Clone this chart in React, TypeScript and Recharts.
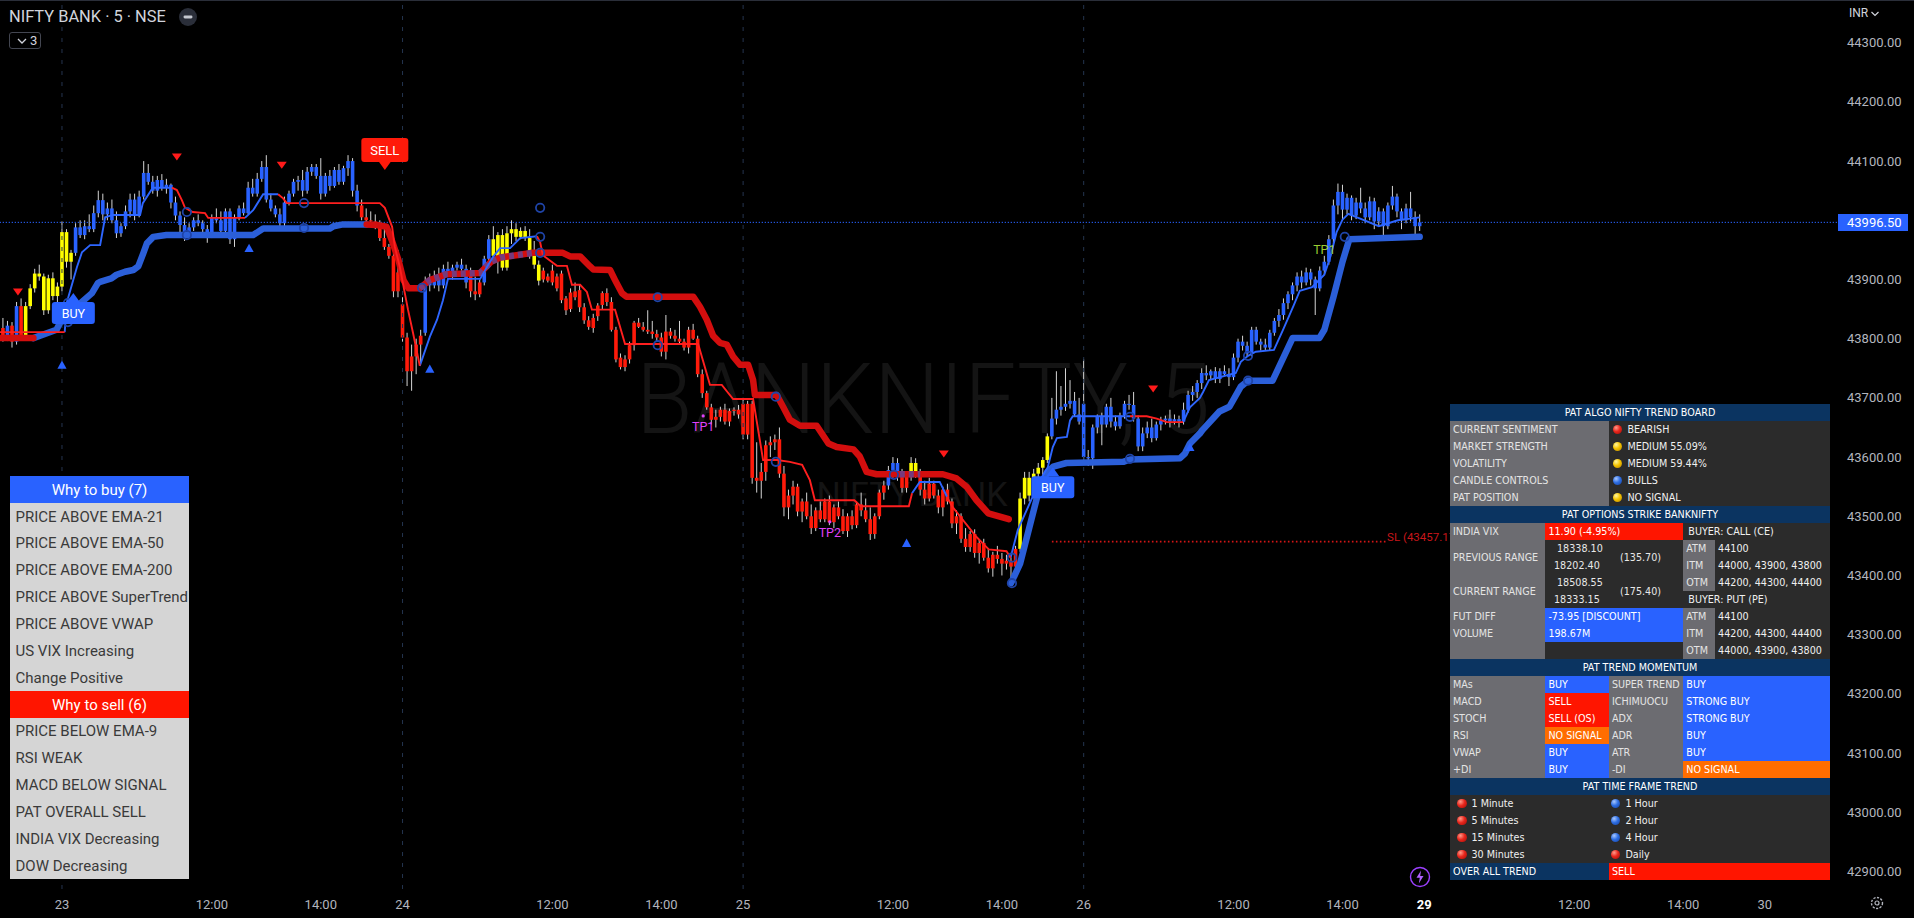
import React from 'react';
import { ComposedChart, XAxis, YAxis, Bar, Line, Scatter, ReferenceLine } from 'recharts';

// ---------------- scales / ticks ----------------
const X_DOMAIN: [number, number] = [-13.65, 390.9];
const Y_DOMAIN: [number, number] = [42870.4, 44372.1];
const sessionBreaks = [0, 75, 150, 225];
const xTicks = [0, 33, 57, 75, 108, 132, 150, 183, 207, 225, 258, 282, 300, 333, 357, 375];
const xTickLabels = ['23', '12:00', '14:00', '24', '12:00', '14:00', '25', '12:00', '14:00', '26', '12:00', '14:00', '29', '12:00', '14:00', '30'];
const yTicks = [42900, 43000, 43100, 43200, 43300, 43400, 43500, 43600, 43700, 43800, 43900, 44100, 44200, 44300];
const lastPrice = 43996.5;
const slPrice = 43457.17;
const slSpan = [218, 291.6];

// ---------------- candles [open, high, low, close] ----------------
const day22Start = -13;
const day22 = [
  [43818, 43835, 43795, 43800], [43800, 43830, 43796, 43822], [43822, 43828, 43785, 43795], [43795, 43862, 43790, 43855], [43855, 43868, 43798, 43805],
  [43805, 43862, 43800, 43855], [43855, 43892, 43850, 43885], [43885, 43918, 43878, 43910], [43910, 43925, 43898, 43905], [43905, 43910, 43840, 43848],
  [43848, 43908, 43842, 43902], [43902, 43912, 43865, 43872], [43872, 43895, 43835, 43888],
];
const day22States: [string, number][] = [['R', 1], ['B', 1], ['R', 1], ['B', 1], ['R', 1], ['Y', 8]];

const day23Start = 0;
const day23 = [
  [43888, 43998, 43880, 43980], [43980, 43985, 43920, 43930], [43930, 43950, 43900, 43945], [43945, 43995, 43940, 43988], [43988, 44000, 43970, 43975],
  [43975, 44000, 43968, 43990], [43990, 44010, 43980, 43985], [43985, 44025, 43980, 44012], [44012, 44050, 44005, 44034], [44034, 44045, 44000, 44010],
  [44010, 44030, 44000, 44020], [44020, 44035, 43995, 44000], [44000, 44015, 43970, 43978], [43978, 43995, 43972, 43990], [43990, 44025, 43985, 44015],
  [44015, 44045, 44005, 44035], [44035, 44045, 44000, 44010], [44010, 44050, 44005, 44040], [44040, 44100, 44035, 44080], [44080, 44095, 44060, 44065],
  [44065, 44075, 44045, 44050], [44050, 44075, 44040, 44068], [44068, 44078, 44050, 44055], [44055, 44070, 44045, 44060], [44060, 44062, 44020, 44030],
  [44030, 44040, 44000, 44008], [44008, 44015, 43980, 43992], [43992, 44005, 43965, 43978], [43978, 43995, 43970, 43988], [43988, 44005, 43982, 44000],
  [44000, 44010, 43990, 43995], [43995, 44000, 43975, 43985], [43985, 43992, 43962, 43975], [43975, 44010, 43970, 44005], [44005, 44020, 43995, 44000],
  [44000, 44015, 43975, 43982], [43982, 44020, 43978, 44015], [44015, 44020, 43960, 43968], [43968, 44010, 43955, 44005], [44005, 44025, 44000, 44020],
  [44020, 44030, 44008, 44012], [44012, 44065, 44010, 44055], [44055, 44070, 44040, 44045], [44045, 44080, 44040, 44070], [44070, 44100, 44065, 44090],
  [44090, 44110, 44030, 44035], [44035, 44045, 44015, 44020], [44020, 44025, 44005, 44010], [44010, 44020, 43985, 43995], [43995, 44040, 43990, 44030],
  [44030, 44050, 44025, 44045], [44045, 44070, 44040, 44065], [44065, 44075, 44050, 44068], [44068, 44085, 44040, 44050], [44050, 44090, 44045, 44082],
  [44082, 44095, 44075, 44090], [44090, 44095, 44070, 44075], [44075, 44105, 44035, 44045], [44045, 44080, 44040, 44075], [44075, 44085, 44050, 44058],
  [44058, 44090, 44055, 44085], [44085, 44095, 44060, 44065], [44065, 44092, 44060, 44088], [44088, 44110, 44075, 44100], [44100, 44105, 44040, 44050],
  [44050, 44060, 44015, 44025], [44025, 44035, 44000, 44005], [44005, 44020, 43995, 44000], [44000, 44015, 43990, 43998], [43998, 44010, 43985, 43995],
  [43995, 44000, 43965, 43970], [43970, 43985, 43950, 43955], [43955, 43960, 43935, 43940], [43940, 43945, 43870, 43880], [43880, 43950, 43870, 43912],
];
const day23States: [string, number][] = [['Y', 3], ['B', 63], ['R', 9]];

const day24Start = 75;
const day24 = [
  [43858, 43870, 43795, 43802], [43802, 43810, 43720, 43745], [43745, 43790, 43712, 43770], [43770, 43800, 43740, 43790], [43790, 43815, 43760, 43805],
  [43810, 43905, 43805, 43895], [43895, 43910, 43880, 43890], [43890, 43915, 43885, 43905], [43905, 43920, 43880, 43890], [43890, 43925, 43885, 43918],
  [43918, 43930, 43905, 43912], [43912, 43925, 43900, 43920], [43920, 43930, 43915, 43925], [43925, 43935, 43915, 43918], [43918, 43925, 43885, 43895],
  [43915, 43920, 43870, 43880], [43880, 43905, 43865, 43875], [43875, 43900, 43870, 43895], [43895, 43940, 43890, 43935], [43935, 43975, 43925, 43968],
  [43968, 43990, 43930, 43940], [43940, 43980, 43910, 43975], [43975, 43985, 43915, 43920], [43920, 43990, 43915, 43978], [43978, 44000, 43960, 43985],
  [43985, 43995, 43965, 43972], [43972, 43988, 43968, 43982], [43982, 43990, 43965, 43970], [43970, 43985, 43935, 43942], [43942, 43965, 43918, 43925],
  [43925, 43932, 43890, 43898], [43915, 43920, 43895, 43900], [43905, 43910, 43895, 43898], [43915, 43925, 43890, 43895], [43905, 43910, 43880, 43885],
  [43910, 43915, 43860, 43865], [43868, 43872, 43840, 43848], [43878, 43885, 43845, 43850], [43880, 43895, 43865, 43870], [43882, 43892, 43845, 43853],
  [43853, 43860, 43825, 43831], [43831, 43838, 43815, 43820], [43835, 43842, 43810, 43818], [43838, 43860, 43830, 43856], [43857, 43880, 43850, 43877],
  [43877, 43885, 43855, 43862], [43862, 43870, 43812, 43815], [43815, 43820, 43760, 43765], [43768, 43775, 43748, 43752], [43765, 43772, 43745, 43752],
  [43765, 43795, 43758, 43789], [43789, 43830, 43780, 43827], [43827, 43835, 43818, 43820], [43820, 43828, 43812, 43815], [43815, 43848, 43808, 43812],
  [43812, 43830, 43800, 43808], [43808, 43815, 43795, 43802], [43802, 43810, 43770, 43778], [43778, 43840, 43765, 43812], [43812, 43818, 43800, 43805],
  [43805, 43815, 43795, 43800], [43800, 43830, 43790, 43795], [43795, 43800, 43780, 43785], [43785, 43820, 43775, 43815], [43815, 43825, 43798, 43800],
  [43800, 43805, 43735, 43740], [43740, 43748, 43700, 43708], [43708, 43712, 43680, 43684], [43684, 43690, 43655, 43663], [43663, 43680, 43650, 43668],
  [43668, 43685, 43660, 43680], [43680, 43690, 43655, 43660], [43660, 43682, 43652, 43678], [43678, 43684, 43670, 43680], [43680, 43688, 43665, 43672],
];
const day24States: [string, number][] = [['R', 5], ['B', 10], ['R', 3], ['B', 2], ['Y', 11], ['R', 44]];

const day25Start = 150;
const day25 = [
  [43690, 43700, 43630, 43638], [43638, 43695, 43630, 43690], [43690, 43695, 43555, 43565], [43565, 43625, 43540, 43560], [43560, 43590, 43530, 43575],
  [43575, 43628, 43560, 43620], [43620, 43635, 43600, 43625], [43625, 43638, 43612, 43630], [43630, 43650, 43565, 43572], [43572, 43585, 43500, 43515],
  [43515, 43545, 43495, 43535], [43535, 43560, 43520, 43550], [43550, 43555, 43500, 43508], [43508, 43530, 43490, 43525], [43525, 43540, 43495, 43500],
  [43500, 43520, 43470, 43480], [43480, 43515, 43475, 43510], [43510, 43525, 43490, 43495], [43495, 43530, 43490, 43525], [43525, 43535, 43485, 43490],
  [43490, 43520, 43480, 43515], [43515, 43525, 43495, 43500], [43500, 43512, 43470, 43475], [43475, 43505, 43465, 43500], [43500, 43510, 43478, 43485],
  [43485, 43525, 43480, 43520], [43520, 43540, 43500, 43510], [43510, 43530, 43490, 43495], [43495, 43515, 43460, 43470], [43470, 43505, 43462, 43500],
  [43500, 43545, 43495, 43540], [43540, 43560, 43528, 43552], [43552, 43585, 43545, 43578], [43578, 43600, 43565, 43590], [43590, 43598, 43560, 43570],
  [43570, 43580, 43540, 43548], [43548, 43575, 43540, 43570], [43570, 43600, 43560, 43590], [43590, 43598, 43565, 43573], [43573, 43580, 43535, 43545],
  [43545, 43560, 43520, 43530], [43530, 43565, 43525, 43555], [43555, 43560, 43530, 43535], [43535, 43545, 43505, 43515], [43515, 43550, 43500, 43545],
  [43545, 43555, 43520, 43525], [43525, 43530, 43480, 43488], [43488, 43510, 43470, 43500], [43500, 43505, 43455, 43462], [43462, 43480, 43440, 43448],
  [43448, 43475, 43440, 43470], [43470, 43478, 43430, 43438], [43438, 43460, 43420, 43455], [43455, 43462, 43425, 43430], [43430, 43445, 43405, 43412],
  [43412, 43440, 43398, 43435], [43435, 43450, 43420, 43428], [43428, 43438, 43400, 43420], [43420, 43435, 43410, 43425], [43425, 43430, 43395, 43415],
  [43415, 43450, 43405, 43445], [43445, 43540, 43440, 43530], [43530, 43575, 43520, 43565], [43565, 43575, 43525, 43535], [43535, 43580, 43530, 43572],
  [43572, 43590, 43565, 43582], [43582, 43600, 43570, 43595], [43595, 43640, 43590, 43635], [43635, 43700, 43630, 43665], [43665, 43745, 43655, 43680],
  [43680, 43720, 43670, 43685], [43685, 43750, 43678, 43690], [43690, 43730, 43682, 43695], [43695, 43710, 43668, 43672], [43672, 43700, 43655, 43660],
];
const day25States: [string, number][] = [['R', 32], ['B', 3], ['R', 2], ['Y', 2], ['R', 22], ['Y', 7], ['B', 7]];

const day26Start = 225;
const day26 = [
  [43690, 43765, 43590, 43600], [43600, 43612, 43585, 43598], [43598, 43655, 43580, 43650], [43650, 43672, 43640, 43668], [43668, 43675, 43620, 43655],
  [43655, 43690, 43650, 43685], [43685, 43700, 43650, 43660], [43660, 43670, 43645, 43652], [43652, 43675, 43648, 43670], [43670, 43695, 43665, 43690],
  [43690, 43705, 43680, 43688], [43688, 43710, 43660, 43665], [43665, 43670, 43610, 43618], [43618, 43650, 43610, 43640], [43640, 43660, 43632, 43650],
  [43650, 43665, 43625, 43632], [43632, 43660, 43628, 43655], [43655, 43668, 43645, 43662], [43662, 43670, 43655, 43665], [43665, 43680, 43650, 43660],
  [43660, 43672, 43655, 43664], [43664, 43670, 43650, 43660], [43660, 43692, 43655, 43680], [43680, 43712, 43675, 43705], [43705, 43720, 43695, 43710],
  [43710, 43730, 43700, 43725], [43725, 43750, 43715, 43742], [43742, 43755, 43730, 43738], [43738, 43748, 43730, 43745], [43745, 43752, 43725, 43732],
  [43732, 43750, 43725, 43745], [43745, 43755, 43738, 43740], [43740, 43750, 43720, 43735], [43735, 43775, 43730, 43768], [43768, 43800, 43760, 43795],
  [43795, 43805, 43780, 43788], [43788, 43795, 43770, 43775], [43775, 43820, 43770, 43815], [43815, 43820, 43790, 43795], [43795, 43800, 43780, 43790],
  [43790, 43800, 43780, 43785], [43785, 43815, 43780, 43810], [43810, 43835, 43805, 43830], [43830, 43850, 43820, 43840], [43840, 43868, 43832, 43860],
  [43860, 43880, 43850, 43875], [43875, 43895, 43865, 43890], [43890, 43912, 43880, 43905], [43905, 43915, 43885, 43895], [43895, 43920, 43890, 43912],
  [43912, 43918, 43890, 43900], [43900, 43905, 43840, 43885], [43885, 43922, 43880, 43915], [43915, 43940, 43908, 43930], [43930, 43975, 43925, 43968],
  [43968, 44035, 43960, 44025], [44025, 44062, 44010, 44048], [44048, 44060, 44000, 44018], [44018, 44045, 44010, 44038], [44038, 44042, 44000, 44008],
  [44008, 44038, 44002, 44030], [44030, 44055, 44012, 44020], [44020, 44030, 43995, 44005], [44005, 44040, 44000, 44032], [44032, 44038, 43985, 43998],
  [43998, 44022, 43990, 44015], [44015, 44020, 43975, 43990], [43990, 44030, 43985, 44025], [44025, 44058, 44018, 44040], [44040, 44045, 44005, 44015],
  [44015, 44020, 43985, 44000], [44000, 44028, 43995, 44020], [44020, 44048, 43998, 44005], [44005, 44015, 43975, 43990], [43990, 44010, 43982, 43996.5],
];
const day26States: [string, number][] = [['B', 75]];

// ---------------- trailing lines (bar index, price) ----------------
const fastTrailBear = [
  [[-13.65, 43811], [0.6, 43811]],
  [[24.2, 44055], [25.3, 44051], [26.4, 44034], [27.1, 44021], [28.8, 44014], [31.5, 44012], [32.2, 44004], [40.3, 44004]],
  [[47.6, 44044], [48.7, 44037], [49.5, 44029], [70.0, 44029], [71.1, 44021], [72.7, 43989], [73.3, 43955], [74.4, 43921], [75.5, 43877], [76.2, 43849], [77.3, 43810], [78.8, 43754]],
  [[104.6, 43973], [105.3, 43963], [105.9, 43941], [109.0, 43923], [111.2, 43923], [112.3, 43891], [114.1, 43891], [115.6, 43879], [116.7, 43849], [121.8, 43849], [124.0, 43791], [140.1, 43791], [142.7, 43722], [145.3, 43722], [147.8, 43698], [152.2, 43698], [154.4, 43595], [157.5, 43595], [160.3, 43592], [163.0, 43587], [164.7, 43561], [165.8, 43527], [174.5, 43527], [175.9, 43517], [186.5, 43517], [187.2, 43539]],
  [[194.9, 43533], [196.0, 43517], [201.4, 43465], [204.1, 43444], [208.0, 43441], [208.9, 43430]],
  [[235.2, 43669], [238.9, 43669], [241.1, 43665], [243.3, 43659], [246.9, 43659]],
];
const fastTrailBull = [
  [[0.6, 43811], [1.1, 43862], [3.3, 43921], [4.4, 43946], [6.2, 43958], [8.4, 43958], [9.5, 44005], [11.2, 44009], [17.2, 44009], [17.8, 44029], [20.0, 44055], [24.2, 44055]],
  [[40.3, 44004], [42.1, 44017], [44.3, 44044], [47.6, 44044]],
  [[78.8, 43754], [81.0, 43803], [82.6, 43832], [83.9, 43865], [85.0, 43901], [92.1, 43901], [93.6, 43921], [94.9, 43938], [96.5, 43953], [98.7, 43953], [100.9, 43970], [104.6, 43973]],
  [[187.2, 43539], [188.9, 43558], [193.3, 43558], [194.9, 43533]],
  [[208.9, 43430], [210.5, 43477], [215.4, 43561], [217.1, 43583], [218.2, 43617], [219.1, 43632], [221.3, 43634], [222.0, 43662], [222.6, 43669], [235.2, 43669]],
  [[246.9, 43659], [248.4, 43684], [250.6, 43700], [251.3, 43710], [252.6, 43730], [258.5, 43742], [259.6, 43761], [261.2, 43771], [262.9, 43778], [266.9, 43781], [268.9, 43815], [271.3, 43857], [272.6, 43881], [275.3, 43887], [278.0, 43908], [279.4, 43940], [280.7, 43980], [282.0, 44001], [283.3, 44011], [290.0, 43990], [294.2, 44000], [299.0, 44005]],
];
const slowTrailBear = [
  [[-13.65, 43801], [-6.3, 43801]],
  [[67.1, 43993], [69.3, 43992], [71.5, 43989], [72.6, 43967], [74.1, 43933], [75.2, 43899], [76.3, 43885], [78.8, 43885], [81, 43899], [84.7, 43909], [92.1, 43911], [94.5, 43930], [96.5, 43937], [103.7, 43945], [110.3, 43945], [111.9, 43939], [114.1, 43939], [116.3, 43922], [117, 43917], [120.7, 43916], [121.8, 43899], [123.3, 43877], [124.3, 43871], [139, 43871], [140.5, 43854], [142, 43832], [143.4, 43805], [144.9, 43793], [146.4, 43790], [147.8, 43770], [149.3, 43756], [151.1, 43756], [152.2, 43730], [152.6, 43705], [157.4, 43705], [158.8, 43685], [160.3, 43663], [162.5, 43653], [166.2, 43653], [168.8, 43623], [170.6, 43617], [174.3, 43613], [175.7, 43601], [177.2, 43575], [179.4, 43571], [194, 43571], [197, 43564], [199.2, 43550], [201.4, 43527], [204, 43505], [208.5, 43495]],
];
const slowTrailBull = [
  [[-6.3, 43801], [-1.2, 43815], [-0.1, 43832], [6.6, 43877], [7.9, 43894], [8.4, 43896], [10.9, 43902], [12.0, 43908], [13.9, 43913], [15.7, 43916], [16.8, 43922], [17.9, 43944], [18.7, 43961], [20.1, 43972], [23.0, 43975], [42.1, 43975], [44.3, 43986], [59.0, 43986], [59.8, 43990], [61.9, 43993], [67.1, 43993]],
  [[209, 43387], [211, 43420], [213, 43480], [215, 43540], [217, 43575], [218.3, 43584], [221.2, 43590], [233.7, 43592], [235.2, 43596], [246.2, 43598], [247.3, 43606], [248.4, 43623], [250.6, 43640], [251.2, 43646], [254.9, 43677], [257.1, 43685], [259.6, 43719], [261.2, 43729], [266.6, 43729], [271, 43801], [276.9, 43801], [278, 43815], [280, 43870], [282, 43930], [283.5, 43968], [299, 43972]],
];
const slowTrailContested = [
  [[78.8, 43885], [81, 43899], [84.7, 43909], [92.1, 43911], [94.5, 43930], [96.5, 43937], [103.7, 43945]],
  [[184.5, 43571], [189, 43571]],
];

// ---------------- signals ----------------
const pivotMarks = [[1.3, 43860], [1.3, 43828], [27.5, 44014], [27.5, 43975], [53.3, 44029], [53.3, 43987], [79.3, 43886], [105.3, 44021], [105.3, 43972], [105.3, 43945], [131.2, 43870], [131.2, 43789], [157.2, 43702], [157.2, 43592], [183.2, 43570], [209.2, 43430], [209.2, 43387], [235.2, 43668], [235.2, 43597], [261.2, 43771], [261.2, 43729], [282.5, 43972]];
const bearArrows = [[-9.7, 43879], [25.3, 44107], [48.4, 44093], [194.2, 43605], [240.3, 43715]];
const bullArrows = [[0, 43756], [41.2, 43953], [81, 43749], [186, 43455], [248.4, 43617]];
const buySignals = [[2.5, 43877], [218.2, 43583]];
const sellSignals = [[71.1, 44085]];
const targetHits = [
  { g: 141.2, p: 43651, label: 'TP1', kind: 'short' },
  { g: 169.1, p: 43472, label: 'TP2', kind: 'short' },
  { g: 278, p: 43950, label: 'TP1', kind: 'long' },
];

// ---------------- panels ----------------
const buyReasons = ['PRICE ABOVE EMA-21', 'PRICE ABOVE EMA-50', 'PRICE ABOVE EMA-200', 'PRICE ABOVE SuperTrend', 'PRICE ABOVE VWAP', 'US VIX Increasing', 'Change Positive'];
const sellReasons = ['PRICE BELOW EMA-9', 'RSI WEAK', 'MACD BELOW SIGNAL', 'PAT OVERALL SELL', 'INDIA VIX Decreasing', 'DOW Decreasing'];
const boardRows = [
  ['CURRENT SENTIMENT', 'red', 'BEARISH'],
  ['MARKET STRENGTH', 'yellow', 'MEDIUM 55.09%'],
  ['VOLATILITY', 'yellow', 'MEDIUM 59.44%'],
  ['CANDLE CONTROLS', 'blue', 'BULLS'],
  ['PAT POSITION', 'yellow', 'NO SIGNAL'],
];
const momentumRows = [
  ['MAs', 'BUY', 'SUPER TREND', 'BUY'],
  ['MACD', 'SELL', 'ICHIMUOCU', 'STRONG BUY'],
  ['STOCH', 'SELL (OS)', 'ADX', 'STRONG BUY'],
  ['RSI', 'NO SIGNAL', 'ADR', 'BUY'],
  ['VWAP', 'BUY', 'ATR', 'BUY'],
  ['+DI', 'BUY', '-DI', 'NO SIGNAL'],
];
const timeframeRows = [
  ['red', '1 Minute', 'blue', '1 Hour'],
  ['red', '5 Minutes', 'blue', '2 Hour'],
  ['red', '15 Minutes', 'blue', '4 Hour'],
  ['red', '30 Minutes', 'red', 'Daily'],
];
const callStrikes = [['ATM', '44100'], ['ITM', '44000, 43900, 43800'], ['OTM', '44200, 44300, 44400']];
const putStrikes = [['ATM', '44100'], ['ITM', '44200, 44300, 44400'], ['OTM', '44000, 43900, 43800']];

// ---------------- build ----------------
const expandRuns = (runs: [string, number][]) => {
  const out: string[] = [];
  runs.forEach(([s, n]) => { for (let i = 0; i < n; i++) out.push(s); });
  return out;
};
const days = [
  { start: day22Start, bars: day22, runs: day22States },
  { start: day23Start, bars: day23, runs: day23States },
  { start: day24Start, bars: day24, runs: day24States },
  { start: day25Start, bars: day25, runs: day25States },
  { start: day26Start, bars: day26, runs: day26States },
];
const candles = days.flatMap((d) => {
  const st = expandRuns(d.runs);
  return d.bars.map((b, i) => ({ g: d.start + i, o: b[0], h: b[1], l: b[2], c: b[3], s: st[i] || 'B' }));
});
const toPts = (seg: number[][]) => seg.map(([g, p]) => ({ g, p }));

const CANDLE_COLORS: Record<string, string> = { B: '#2962ff', R: '#ff1a0a', Y: '#ffff00' };
const AXIS_TEXT = '#b2b5be';
const FONT = 'Roboto, "Noto Sans", sans-serif';

const CandleShape = (props: any) => {
  const { x, y, width, height, payload } = props;
  if (!payload || x == null || y == null || height == null) return null;
  const top = Math.min(y, y + height);
  const hh = Math.abs(height);
  const range = payload.h - payload.l;
  const k = range > 0 ? hh / range : 0;
  const yo = top + (payload.h - payload.o) * k;
  const yc = top + (payload.h - payload.c) * k;
  const bt = Math.min(yo, yc);
  const bh = Math.max(1.2, Math.abs(yo - yc));
  const cx = x + width / 2;
  return (
    <g>
      <line x1={cx} x2={cx} y1={top} y2={top + hh} stroke="#d4d4d4" strokeWidth={1} />
      <rect x={cx - 1.8} y={bt} width={3.6} height={bh} fill={CANDLE_COLORS[payload.s]} />
    </g>
  );
};

const XTick = (props: any) => {
  const { x, y, payload } = props;
  const i = xTicks.indexOf(payload.value);
  const label = i >= 0 ? xTickLabels[i] : '';
  const hi = label === '29';
  return (
    <text x={x} y={y + 18} textAnchor="middle" fill={hi ? '#ffffff' : AXIS_TEXT} fontSize={13} fontWeight={hi ? 700 : 400} fontFamily={FONT}>{label}</text>
  );
};
const YTick = (props: any) => {
  const { x, y, payload } = props;
  return (
    <text x={x} y={y + 4.6} textAnchor="start" fill={AXIS_TEXT} fontSize={13} fontFamily={FONT}>{Number(payload.value).toFixed(2)}</text>
  );
};

const downTri = (p: any) => <path d={`M${p.cx - 5},${p.cy - 3.5} L${p.cx + 5},${p.cy - 3.5} L${p.cx},${p.cy + 3.5} Z`} fill="#ff1a1a" />;
const upTri = (p: any) => <path d={`M${p.cx - 4.6},${p.cy + 4} L${p.cx + 4.6},${p.cy + 4} L${p.cx},${p.cy - 4.3} Z`} fill="#2962ff" />;
const ring = (p: any) => <circle cx={p.cx} cy={p.cy} r={4.2} fill="none" stroke="#1f44a8" strokeWidth={1.8} />;
const buyTag = (p: any) => (
  <g>
    <path d={`M${p.cx},${p.cy} L${p.cx + 6.5},${p.cy + 9} L${p.cx - 6.5},${p.cy + 9} Z`} fill="#2962ff" />
    <rect x={p.cx - 21.5} y={p.cy + 9} width={43} height={22} rx={3} fill="#2962ff" />
    <text x={p.cx} y={p.cy + 24.5} textAnchor="middle" fill="#ffffff" fontSize={12.5} fontFamily={FONT}>BUY</text>
  </g>
);
const sellTag = (p: any) => (
  <g>
    <path d={`M${p.cx},${p.cy} L${p.cx + 6.5},${p.cy - 9} L${p.cx - 6.5},${p.cy - 9} Z`} fill="#ff1a0a" />
    <rect x={p.cx - 23.5} y={p.cy - 32} width={47} height={24} rx={3} fill="#ff1a0a" />
    <text x={p.cx} y={p.cy - 15} textAnchor="middle" fill="#ffffff" fontSize={13} fontFamily={FONT}>SELL</text>
  </g>
);
const tpTag = (p: any) => {
  const long = p.payload.kind === 'long';
  const col = long ? '#9acd32' : '#e040fb';
  return (
    <g>
      {!long && <circle cx={p.cx} cy={p.cy - 11} r={1.6} fill={col} />}
      <text x={p.cx} y={p.cy + 4.5} textAnchor="middle" fill={col} fontSize={12.5} fontFamily={FONT}>{p.payload.label}</text>
    </g>
  );
};
const slTag = (p: any) => (
  <text x={p.cx + 1} y={p.cy - 0.5} textAnchor="start" fill="#c8161a" fontSize={11.5} fontFamily={FONT}>SL ({slPrice.toFixed(2)}</text>
);

// ---------------- tables ----------------
const NAVY = '#0b3461';
const GRAY = '#6c6c71';
const DARK = '#2b2b2b';
const RED = '#ff1500';
const BLUE = '#2962ff';
const ORANGE = '#ff6d00';
const T_TOP = 404;
const RH = 17;
const TX = [1450, 1545.4, 1608.9, 1683.3, 1715.1, 1830];

const dotBg: Record<string, string> = {
  red: 'radial-gradient(circle at 35% 30%, #ff9a8a 0%, #e8271d 45%, #9e0a05 100%)',
  yellow: 'radial-gradient(circle at 35% 30%, #fff6a0 0%, #f5c400 45%, #b07d00 100%)',
  blue: 'radial-gradient(circle at 35% 30%, #a8c8ff 0%, #2f6fe4 45%, #123f9c 100%)',
};
const Dot = ({ c }: any) => (
  <span style={{ display: 'inline-block', width: 9.5, height: 9.5, borderRadius: '50%', background: dotBg[c], marginRight: 5, flex: '0 0 auto' }} />
);
const Cell = ({ x0, x1, r0, r1, bg, children, center, color, pad }: any) => (
  <div style={{
    position: 'absolute', left: x0, top: T_TOP + r0 * RH, width: x1 - x0, height: ((r1 ?? r0) - r0 + 1) * RH,
    background: bg, color: color || '#e4e4e4', display: 'flex', alignItems: 'center',
    justifyContent: center ? 'center' : 'flex-start', paddingLeft: center ? 0 : (pad ?? 3), boxSizing: 'border-box',
    whiteSpace: 'nowrap', overflow: 'hidden',
  }}>{children}</div>
);
const sigColor = (s: string) => (s.indexOf('BUY') >= 0 ? BLUE : s.indexOf('SELL') >= 0 ? RED : ORANGE);

const RangeText = ({ r0, hi, mid, lo }: any) => (
  <>
    <div style={{ position: 'absolute', left: 1557, top: T_TOP + r0 * RH + 3, color: '#e8e8e8' }}>{hi}</div>
    <div style={{ position: 'absolute', left: 1620, top: T_TOP + r0 * RH + 11.5, color: '#e8e8e8' }}>{mid}</div>
    <div style={{ position: 'absolute', left: 1554, top: T_TOP + r0 * RH + 20, color: '#e8e8e8' }}>{lo}</div>
  </>
);

const TrendBoard = () => (
  <div style={{ position: 'absolute', left: 0, top: 0, fontFamily: '"DejaVu Sans", sans-serif', fontSize: 9.6, lineHeight: '11px' }}>
    <Cell x0={TX[0]} x1={TX[5]} r0={0} bg={NAVY} center color="#ffffff">PAT ALGO NIFTY TREND BOARD</Cell>
    {boardRows.map((r, i) => (
      <React.Fragment key={'b' + i}>
        <Cell x0={TX[0]} x1={TX[2]} r0={1 + i} bg={GRAY}>{r[0]}</Cell>
        <Cell x0={TX[2]} x1={TX[5]} r0={1 + i} bg={DARK} pad={4} color="#f0f0f0"><Dot c={r[1]} />{r[2]}</Cell>
      </React.Fragment>
    ))}
    <Cell x0={TX[0]} x1={TX[5]} r0={6} bg={NAVY} center color="#ffffff">PAT OPTIONS STRIKE BANKNIFTY</Cell>
    <Cell x0={TX[0]} x1={TX[1]} r0={7} bg={GRAY}>INDIA VIX</Cell>
    <Cell x0={TX[1]} x1={TX[3]} r0={7} bg={RED} color="#ffffff">11.90 (-4.95%)</Cell>
    <Cell x0={TX[3]} x1={TX[5]} r0={7} bg={DARK} pad={5} color="#f0f0f0">BUYER: CALL (CE)</Cell>
    <Cell x0={TX[0]} x1={TX[1]} r0={8} r1={9} bg={GRAY}>PREVIOUS RANGE</Cell>
    <Cell x0={TX[1]} x1={TX[3]} r0={8} r1={9} bg={DARK}>{''}</Cell>
    <RangeText r0={8} hi="18338.10" mid="(135.70)" lo="18202.40" />
    <Cell x0={TX[0]} x1={TX[1]} r0={10} r1={11} bg={GRAY}>CURRENT RANGE</Cell>
    <Cell x0={TX[1]} x1={TX[3]} r0={10} r1={11} bg={DARK}>{''}</Cell>
    <RangeText r0={10} hi="18508.55" mid="(175.40)" lo="18333.15" />
    {callStrikes.map((r, i) => (
      <React.Fragment key={'c' + i}>
        <Cell x0={TX[3]} x1={TX[4]} r0={8 + i} bg={GRAY}>{r[0]}</Cell>
        <Cell x0={TX[4]} x1={TX[5]} r0={8 + i} bg={DARK} color="#f0f0f0">{r[1]}</Cell>
      </React.Fragment>
    ))}
    <Cell x0={TX[3]} x1={TX[5]} r0={11} bg={DARK} pad={5} color="#f0f0f0">BUYER: PUT (PE)</Cell>
    {putStrikes.map((r, i) => (
      <React.Fragment key={'p' + i}>
        <Cell x0={TX[3]} x1={TX[4]} r0={12 + i} bg={GRAY}>{r[0]}</Cell>
        <Cell x0={TX[4]} x1={TX[5]} r0={12 + i} bg={DARK} color="#f0f0f0">{r[1]}</Cell>
      </React.Fragment>
    ))}
    <Cell x0={TX[0]} x1={TX[1]} r0={12} bg={GRAY}>FUT DIFF</Cell>
    <Cell x0={TX[1]} x1={TX[3]} r0={12} bg={BLUE} color="#ffffff">-73.95 [DISCOUNT]</Cell>
    <Cell x0={TX[0]} x1={TX[1]} r0={13} bg={GRAY}>VOLUME</Cell>
    <Cell x0={TX[1]} x1={TX[3]} r0={13} bg={BLUE} color="#ffffff">198.67M</Cell>
    <Cell x0={TX[0]} x1={TX[1]} r0={14} bg={GRAY}>{''}</Cell>
    <Cell x0={TX[1]} x1={TX[3]} r0={14} bg={DARK}>{''}</Cell>
    <Cell x0={TX[0]} x1={TX[5]} r0={15} bg={NAVY} center color="#ffffff">PAT TREND MOMENTUM</Cell>
    {momentumRows.map((r, i) => (
      <React.Fragment key={'m' + i}>
        <Cell x0={TX[0]} x1={TX[1]} r0={16 + i} bg={GRAY}>{r[0]}</Cell>
        <Cell x0={TX[1]} x1={TX[2]} r0={16 + i} bg={sigColor(r[1])} color="#ffffff">{r[1]}</Cell>
        <Cell x0={TX[2]} x1={TX[3]} r0={16 + i} bg={GRAY}>{r[2]}</Cell>
        <Cell x0={TX[3]} x1={TX[5]} r0={16 + i} bg={sigColor(r[3])} color="#ffffff">{r[3]}</Cell>
      </React.Fragment>
    ))}
    <Cell x0={TX[0]} x1={TX[5]} r0={22} bg={NAVY} center color="#ffffff">PAT TIME FRAME TREND</Cell>
    {timeframeRows.map((r, i) => (
      <React.Fragment key={'t' + i}>
        <Cell x0={TX[0]} x1={TX[2]} r0={23 + i} bg={DARK} pad={7} color="#f0f0f0"><Dot c={r[0]} />{r[1]}</Cell>
        <Cell x0={TX[2]} x1={TX[5]} r0={23 + i} bg={DARK} pad={2} color="#f0f0f0"><Dot c={r[2]} />{r[3]}</Cell>
      </React.Fragment>
    ))}
    <Cell x0={TX[0]} x1={TX[2]} r0={27} bg={NAVY} color="#ffffff">OVER ALL TREND</Cell>
    <Cell x0={TX[2]} x1={TX[5]} r0={27} bg={RED} color="#ffffff">SELL</Cell>
  </div>
);

const PR_TOP = 476;
const PR_H = 26.86;
const ReasonPanel = () => {
  const rows: any[] = [];
  rows.push({ t: 'Why to buy (' + buyReasons.length + ')', head: BLUE });
  buyReasons.forEach((t) => rows.push({ t }));
  rows.push({ t: 'Why to sell (' + sellReasons.length + ')', head: RED });
  sellReasons.forEach((t) => rows.push({ t }));
  return (
    <div style={{ position: 'absolute', left: 10, top: PR_TOP, width: 179, fontFamily: FONT, fontSize: 15 }}>
      {rows.map((r, i) => (
        <div key={i} style={{
          position: 'absolute', left: 0, top: i * PR_H, width: 179, height: PR_H + 0.5,
          background: r.head || '#d5d5d5', color: r.head ? '#ffffff' : '#3a3a3a',
          display: 'flex', alignItems: 'center', justifyContent: r.head ? 'center' : 'flex-start',
          paddingLeft: r.head ? 0 : 5.5, boxSizing: 'border-box', whiteSpace: 'nowrap', overflow: 'hidden',
        }}>{r.t}</div>
      ))}
    </div>
  );
};

export default function App() {
  return (
    <div style={{ position: 'absolute', left: 0, top: 0, width: 1914, height: 918, background: '#000000', overflow: 'hidden' }}>
      <svg width={1914} height={918} style={{ position: 'absolute', left: 0, top: 0 }}>
        <text x={923} y={433} textAnchor="middle" fontSize={98} fontFamily={FONT} fontWeight={300} fill="#141414" textLength={574} lengthAdjust="spacingAndGlyphs">BANKNIFTY, 5</text>
        <text x={912} y={506} textAnchor="middle" fontSize={34} fontFamily={FONT} fill="#141414">NIFTY BANK</text>
      </svg>
      <div style={{ position: 'absolute', left: 0, top: 0 }}>
        <ComposedChart width={1914} height={918} data={candles} margin={{ top: 0, right: 0, bottom: 0, left: 0 }}>
          <XAxis type="number" dataKey="g" domain={X_DOMAIN} ticks={xTicks} interval={0} height={29} axisLine={false} tickLine={false} tickSize={0} allowDataOverflow tick={XTick} />
          <YAxis type="number" orientation="right" domain={Y_DOMAIN} ticks={yTicks} interval={0} width={77} axisLine={false} tickLine={false} tickSize={0} tickMargin={10} allowDataOverflow tick={YTick} />
          {sessionBreaks.map((g) => (
            <ReferenceLine key={'sb' + g} x={g} stroke="#24344f" strokeDasharray="4 7" strokeWidth={1} />
          ))}
          <ReferenceLine y={lastPrice} stroke="#2962ff" strokeDasharray="1.3 1.7" strokeWidth={1} />
          <ReferenceLine segment={[{ x: slSpan[0], y: slPrice }, { x: slSpan[1], y: slPrice }]} stroke="#d41515" strokeDasharray="1.6 2.4" strokeWidth={1.6} />
          {slowTrailBull.map((s, i) => (
            <Line key={'sbu' + i} data={toPts(s)} dataKey="p" type="linear" stroke="#2b5fd9" strokeWidth={6.5} strokeLinejoin="round" strokeLinecap="round" dot={false} activeDot={false} isAnimationActive={false} />
          ))}
          {slowTrailBear.map((s, i) => (
            <Line key={'sbe' + i} data={toPts(s)} dataKey="p" type="linear" stroke="#d30e0e" strokeWidth={6.5} strokeLinejoin="round" strokeLinecap="round" dot={false} activeDot={false} isAnimationActive={false} />
          ))}
          {slowTrailContested.map((s, i) => (
            <Line key={'sco' + i} data={toPts(s)} dataKey="p" type="linear" stroke="#2b5fd9" strokeOpacity={0.55} strokeWidth={6.5} strokeDasharray="5 4" dot={false} activeDot={false} isAnimationActive={false} />
          ))}
          <Bar dataKey={(d: any) => [d.l, d.h]} shape={CandleShape} barSize={4} isAnimationActive={false} />
          {fastTrailBull.map((s, i) => (
            <Line key={'fbu' + i} data={toPts(s)} dataKey="p" type="linear" stroke="#2e66ff" strokeWidth={1.9} dot={false} activeDot={false} isAnimationActive={false} />
          ))}
          {fastTrailBear.map((s, i) => (
            <Line key={'fbe' + i} data={toPts(s)} dataKey="p" type="linear" stroke="#ff1f1f" strokeWidth={1.9} dot={false} activeDot={false} isAnimationActive={false} />
          ))}
          <Scatter data={toPts(pivotMarks)} dataKey="p" shape={ring} isAnimationActive={false} />
          <Scatter data={toPts(bearArrows)} dataKey="p" shape={downTri} isAnimationActive={false} />
          <Scatter data={toPts(bullArrows)} dataKey="p" shape={upTri} isAnimationActive={false} />
          <Scatter data={toPts(buySignals)} dataKey="p" shape={buyTag} isAnimationActive={false} />
          <Scatter data={toPts(sellSignals)} dataKey="p" shape={sellTag} isAnimationActive={false} />
          <Scatter data={targetHits} dataKey="p" shape={tpTag} isAnimationActive={false} />
          <Scatter data={[{ g: slSpan[1], p: slPrice }]} dataKey="p" shape={slTag} isAnimationActive={false} />
        </ComposedChart>
      </div>

      {/* top border */}
      <div style={{ position: 'absolute', left: 0, top: 0, width: 1914, height: 1, background: '#2a2e39' }} />
      {/* title */}
      <div style={{ position: 'absolute', left: 9, top: 7, fontFamily: FONT, fontSize: 16.4, color: '#d1d4dc', whiteSpace: 'nowrap' }}>NIFTY BANK · 5 · NSE</div>
      <svg width={20} height={20} style={{ position: 'absolute', left: 178, top: 7 }}>
        <circle cx={10} cy={10} r={9} fill="#2a2e39" />
        <rect x={5.5} y={8.6} width={9} height={2.8} rx={1.4} fill="#c5c8d0" />
      </svg>
      <div style={{ position: 'absolute', left: 9, top: 32, width: 32, height: 17, border: '1px solid #434651', borderRadius: 3, boxSizing: 'border-box' }}>
        <svg width={12} height={10} style={{ position: 'absolute', left: 6, top: 3 }}>
          <path d="M2,3 L6,7 L10,3" stroke="#d1d4dc" strokeWidth={1.3} fill="none" />
        </svg>
        <span style={{ position: 'absolute', left: 20, top: 0, fontFamily: FONT, fontSize: 13, color: '#d1d4dc', lineHeight: '15px' }}>3</span>
      </div>
      {/* currency */}
      <div style={{ position: 'absolute', left: 1849, top: 6, fontFamily: FONT, fontSize: 12, color: '#d1d4dc' }}>INR</div>
      <svg width={10} height={8} style={{ position: 'absolute', left: 1870, top: 10 }}>
        <path d="M1.5,2 L5,5.5 L8.5,2" stroke="#d1d4dc" strokeWidth={1.2} fill="none" />
      </svg>
      {/* last price */}
      <div style={{ position: 'absolute', left: 1838, top: 213.5, width: 70, height: 17.5, background: '#2962ff', color: '#ffffff', fontFamily: FONT, fontSize: 13, lineHeight: '17.5px', paddingLeft: 9, boxSizing: 'border-box' }}>{lastPrice.toFixed(2)}</div>
      {/* icons */}
      <svg width={24} height={24} style={{ position: 'absolute', left: 1408, top: 865 }}>
        <circle cx={12} cy={12} r={9.5} fill="none" stroke="#9c40ff" strokeWidth={1.4} />
        <path d="M13,5.5 L8.5,12.8 L11.8,12.8 L10.8,18.5 L15.5,11 L12.2,11 Z" fill="#b060ff" />
      </svg>
      <svg width={18} height={18} style={{ position: 'absolute', left: 1868, top: 894 }}>
        <circle cx={9} cy={9} r={5.5} fill="none" stroke="#b2b5be" strokeWidth={1.4} strokeDasharray="2.2 1.4" />
        <circle cx={9} cy={9} r={2} fill="none" stroke="#b2b5be" strokeWidth={1.2} />
      </svg>

      <ReasonPanel />
      <TrendBoard />
    </div>
  );
}
